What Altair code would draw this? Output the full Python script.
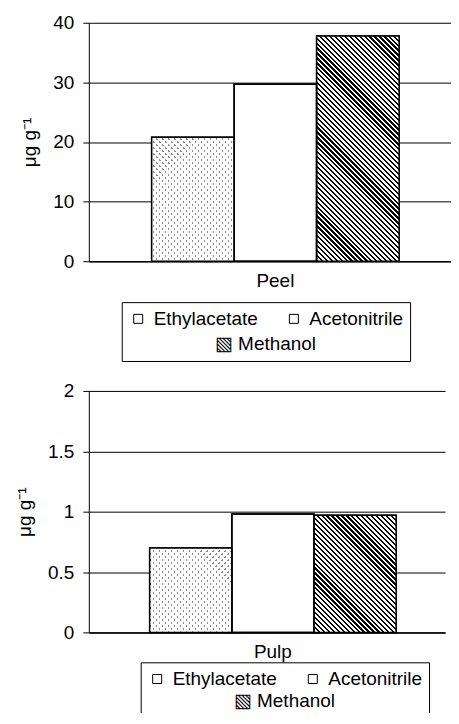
import altair as alt
import pandas as pd

# ---- data ----
solvents = ["Ethylacetate", "Acetonitrile", "Methanol"]
peel_values = [20.8, 29.7, 37.8]
pulp_values = [0.70, 0.98, 0.97]
peel_ticks = [0, 10, 20, 30, 40]
pulp_ticks = [0, 0.5, 1, 1.5, 2]
y_title = "μg g⁻¹"
legend_title = "▧ Methanol"

FONT = "Liberation Sans"
FS = 19
R2 = 2 ** 0.5


def stripes(w, h, period, ink, ink_color, gap_color, direction):
    """Diagonal stripe fill (style only) for a w x h pixel bar."""
    k = (w + h) / (w * w + h * h)
    if direction == "\\":
        x1, y1, x2, y2 = 0, 1, k * w, 1 - k * h
    else:
        x1, y1, x2, y2 = 0, 0, k * w, k * h
    step = period * R2 / (w + h)
    inkt = ink * R2 / (w + h)
    stops = []
    t = 0.0
    while t < 1:
        a = t
        b = min(t + inkt, 1)
        c = min(t + step, 1)
        stops += [(a, ink_color), (b, ink_color), (b, gap_color), (c, gap_color)]
        t += step
    return {
        "gradient": "linear",
        "x1": x1, "y1": y1, "x2": x2, "y2": y2,
        "stops": [{"offset": round(o, 6), "color": col} for o, col in stops],
    }


def panel(name, values, ticks, ymax, W, H, group_w, left_gap, lx, ly, title_pad):
    df = pd.DataFrame({"part": name, "solvent": solvents, "value": values})
    pad_outer = (W / group_w - 1) / 2
    align = left_gap / (W - group_w)
    bar_w = group_w / len(solvents)
    heights = {s: v / ymax * H for s, v in zip(solvents, values)}

    base = alt.Chart(df).encode(
        x=alt.X("part:N", title=None,
                scale=alt.Scale(paddingInner=0, paddingOuter=pad_outer, align=align),
                axis=alt.Axis(labelAngle=0, ticks=False, tickSize=0, labelPadding=10,
                              domainColor="black", domainWidth=1.5, grid=False,
                              labelFont=FONT, labelFontSize=FS, labelColor="black")),
        xOffset=alt.XOffset("solvent:N", sort=solvents,
                            scale=alt.Scale(domain=solvents, paddingInner=0, paddingOuter=0)),
        y=alt.Y("value:Q", title=y_title,
                scale=alt.Scale(domain=[0, ymax], nice=False),
                axis=alt.Axis(values=ticks, format="~r", tickSize=6, tickColor="black",
                              domainColor="black", domainWidth=1, labelPadding=9,
                              labelFont=FONT, labelFontSize=FS, labelColor="black",
                              titleFont=FONT, titleFontSize=FS, titleFontWeight="normal",
                              titleColor="black", titlePadding=13,
                              grid=True, gridColor="black", gridWidth=1)),
    )

    legend = alt.Legend(
        values=solvents[:2], title=legend_title, titleOrient="bottom", titleAnchor="middle",
        titleFont=FONT, titleFontSize=FS, titleFontWeight="normal", titleColor="black",
        titlePadding=title_pad, orient="none", legendX=lx, legendY=ly, direction="horizontal",
        columnPadding=26, symbolType="square", symbolSize=81, symbolStrokeColor="black",
        symbolStrokeWidth=1, labelFont=FONT, labelFontSize=FS, labelColor="black",
        labelOffset=6, strokeColor="black", fillColor="white", padding=7, cornerRadius=0,
    )

    layer_a = base.mark_bar(stroke="black", strokeWidth=1.5).encode(
        fill=alt.Fill("solvent:N", sort=solvents,
                      scale=alt.Scale(domain=solvents, range=["white", "white", "#9a9a9a"]),
                      legend=legend))

    hm = heights["Methanol"]
    he = heights["Ethylacetate"]
    meth = base.transform_filter(alt.datum.solvent == "Methanol").mark_bar(
        fill=stripes(bar_w, hm, 3.5, 1.6, "black", "white", "\\"))
    eth_dark = base.transform_filter(alt.datum.solvent == "Ethylacetate").mark_bar(fill="#8c8c8c")
    eth_s1 = base.transform_filter(alt.datum.solvent == "Ethylacetate").mark_bar(
        fill=stripes(bar_w, he, 6 / R2, 2.2 / R2, "rgba(255,255,255,0)", "white", "\\"))
    eth_s2 = base.transform_filter(alt.datum.solvent == "Ethylacetate").mark_bar(
        fill=stripes(bar_w, he, 6 / R2, 2.2 / R2, "rgba(255,255,255,0)", "white", "/"))
    outline = base.mark_bar(fillOpacity=0, stroke="black", strokeWidth=1.5)

    return alt.layer(layer_a, meth, eth_dark, eth_s1, eth_s2, outline).properties(
        width=W, height=H)


top = panel("Peel", peel_values, peel_ticks, 40, 363, 239, 248, 63, 33, 280, 6)
bottom = panel("Pulp", pulp_values, pulp_ticks, 2, 357, 242, 247, 61, 52, 272, 3)

chart = alt.concat(top, bottom, columns=1, spacing=20, align="none", bounds="full").resolve_scale(
    x="independent", y="independent", fill="independent", xOffset="independent"
).resolve_legend(fill="independent").properties(
    padding={"left": 7, "top": 5, "right": 0, "bottom": -7}
).configure_view(stroke=None)

chart.save("out.html", embed_options={"renderer": "svg", "actions": False})
